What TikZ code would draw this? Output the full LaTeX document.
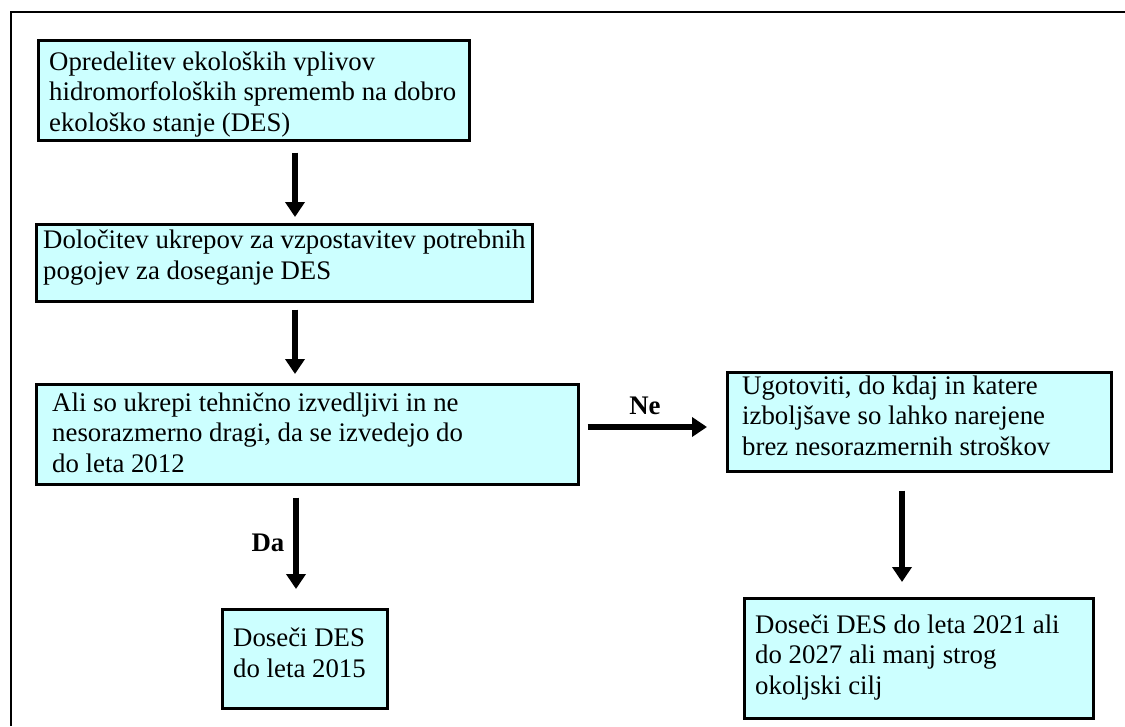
\documentclass[tikz,border=0pt]{standalone}
\usepackage{fontspec}
\setmainfont{Liberation Serif}
\usetikzlibrary{arrows.meta}
\definecolor{boxfill}{HTML}{CCFFFF}
\begin{document}
\begin{tikzpicture}[x=1pt,y=-1pt,
  box/.style={draw=black, line width=2.6pt, fill=boxfill, rectangle, inner sep=0pt},
  txt/.style={anchor=base west, align=left, inner sep=0pt, font=\fontsize{26.8}{30.5}\selectfont},
  lbl/.style={inner sep=0pt, font=\fontsize{26.8}{30.5}\selectfont\bfseries},
  arr/.style={line width=6pt, -{Triangle[width=19pt,length=15pt]}}]
\useasboundingbox (0,0) rectangle (1125,726);
% outer frame (right and bottom edges lie outside the page)
\draw[line width=2.6pt] (11,726) -- (11,12) -- (1125,12);
% boxes (text anchored at the baseline of its last line)
\node[box, anchor=north west, minimum width=431pt, minimum height=100pt] (b1) at (37,39) {};
\node[txt] (t1) at (49,131) {Opredelitev ekoloških vplivov\\hidromorfoloških sprememb na dobro\\ekološko stanje (DES)};
\node[box, anchor=north west, minimum width=496pt, minimum height=77pt] (b2) at (35,223) {};
\node[txt] (t2) at (43,279) {Določitev ukrepov za vzpostavitev potrebnih\\pogojev za doseganje DES};
\node[box, anchor=north west, minimum width=542pt, minimum height=100pt] (b3) at (35,383) {};
\node[txt] (t3) at (52,472) {Ali so ukrepi tehnično izvedljivi in ne\\nesorazmerno dragi, da se izvedejo do\\do leta 2012};
\node[box, anchor=north west, minimum width=384pt, minimum height=99pt] (b4) at (726,371) {};
\node[txt] (t4) at (742,455) {Ugotoviti, do kdaj in katere\\izboljšave so lahko narejene\\brez nesorazmernih stroškov};
\node[box, anchor=north west, minimum width=165pt, minimum height=99pt] (b5) at (221,608) {};
\node[txt] (t5) at (233,677) {Doseči DES\\do leta 2015};
\node[box, anchor=north west, minimum width=349pt, minimum height=120pt] (b6) at (743,597) {};
\node[txt] (t6) at (755,694) {Doseči DES do leta 2021 ali\\do 2027 ali manj strog\\okoljski cilj};
% arrow guide coordinates
\coordinate (xl) at (295,0);
\coordinate (xd) at (296,0);
\coordinate (xr) at (902,0);
\coordinate (yn) at (0,427);
% connectors
\draw[arr, shorten <=11pt, shorten >=6pt] (b1.south -| xl) -- (b2.north -| xl);
\draw[arr, shorten <=7pt, shorten >=9pt] (b2.south -| xl) -- (b3.north -| xl);
\draw[arr, shorten <=12pt, shorten >=19pt] (b3.south -| xd) -- (b5.north -| xd);
\draw[arr, shorten <=8pt, shorten >=19pt] (b3.east |- yn) -- (b4.west |- yn);
\draw[arr, shorten <=18pt, shorten >=15pt] (b4.south -| xr) -- (b6.north -| xr);
% labels
\node[lbl] (ne) at (645,406) {Ne};
\node[lbl] (da) at (268,543) {Da};
\end{tikzpicture}
\end{document}
